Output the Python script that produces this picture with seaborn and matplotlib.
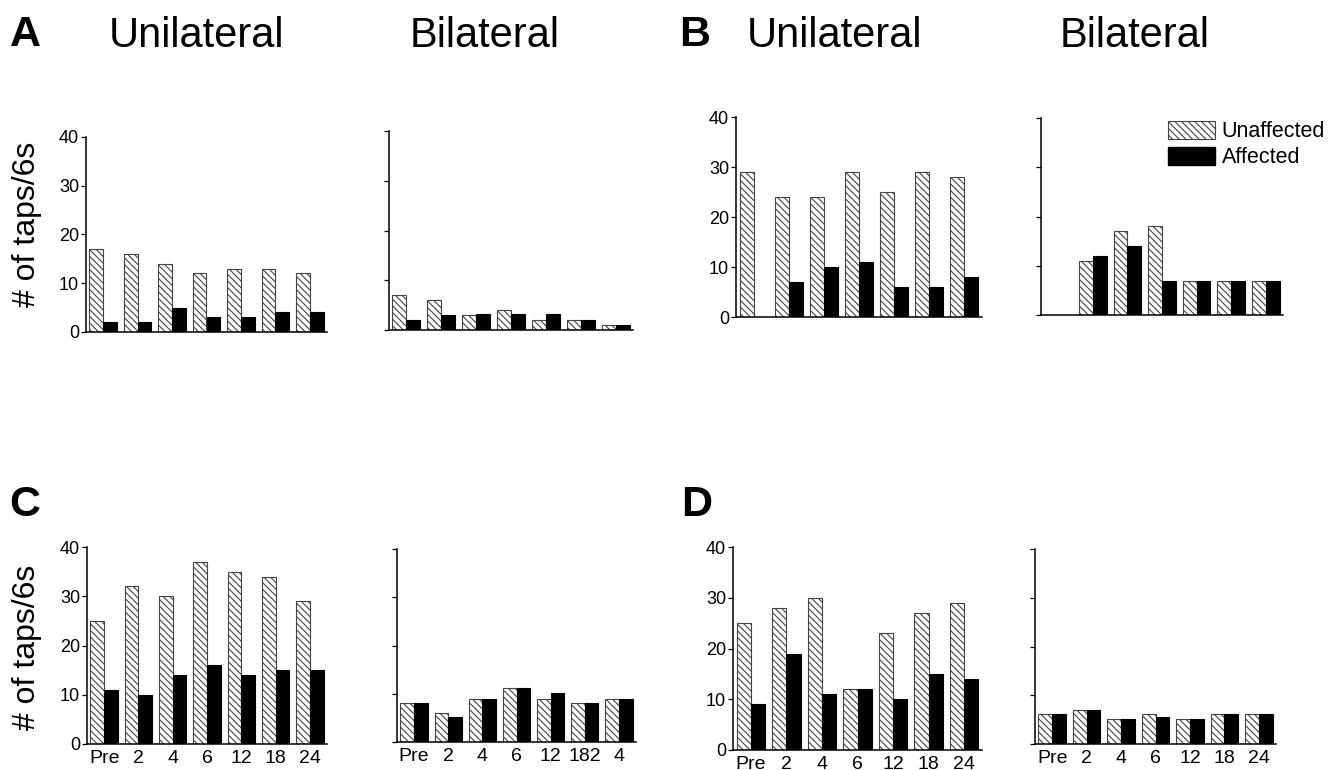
import numpy as np
import pandas as pd
import matplotlib
matplotlib.use("Agg")
import matplotlib.pyplot as plt
import matplotlib.patches as mpatches
import seaborn as sns

sns.set_theme(style="ticks")
plt.rcParams['font.family'] = ['Liberation Sans', 'DejaVu Sans']
plt.rcParams['text.color'] = 'black'
plt.rcParams['xtick.color'] = 'black'
plt.rcParams['ytick.color'] = 'black'
plt.rcParams['axes.labelcolor'] = 'black'
plt.rcParams['hatch.linewidth'] = 0.8
plt.rcParams['hatch.color'] = '#333333'

TIMES = ["Pre", "2", "4", "6", "12", "18", "24"]
HANDS = ["Unaffected", "Affected"]
LABELS_C_BI = ["Pre", "2", "4", "6", "12", "182", "4"]

# taps per 6 s (nan = no bar)
A_UNI_UNAFF = [17, 16, 14, 12, 13, 13, 12]
A_UNI_AFF = [2, 2, 5, 3, 3, 4, 4]
A_BI_UNAFF = [7.1, 6.1, 3.1, 4.1, 2.1, 2.1, 1.1]
A_BI_AFF = [2.1, 3.1, 3.2, 3.2, 3.3, 2.1, 1.1]

B_UNI_UNAFF = [29, 24, 24, 29, 25, 29, 28]
B_UNI_AFF = [np.nan, 7, 10, 11, 6, 6, 8]
B_BI_UNAFF = [np.nan, 11, 17, 18, 7, 7, 7]
B_BI_AFF = [np.nan, 12, 14, 7, 7, 7, 7]

C_UNI_UNAFF = [25, 32, 30, 37, 35, 34, 29]
C_UNI_AFF = [11, 10, 14, 16, 14, 15, 15]
C_BI_UNAFF = [8, 6, 9, 11.2, 9, 8.1, 9]
C_BI_AFF = [8, 5.1, 9, 11.2, 10.1, 8.1, 9]

D_UNI_UNAFF = [25, 28, 30, 12, 23, 27, 29]
D_UNI_AFF = [9, 19, 11, 12, 10, 15, 14]
D_BI_UNAFF = [6.1, 7, 5.05, 6.1, 5.05, 6.1, 6.1]
D_BI_AFF = [6.1, 7, 5.05, 5.5, 5.05, 6.1, 6.1]

W, H = 1341, 770
HATCH = '\\' * 5


def px_axes(fig, x0, x1, ytop, ybot):
    """Add axes given pixel box (top-left origin)"""
    return fig.add_axes([x0 / W, 1 - ybot / H, (x1 - x0) / W, (ybot - ytop) / H])


def draw_panel(ax, unaff, aff, bilateral=False, xlabels=None):
    df = pd.DataFrame({
        'time': TIMES * 2,
        'hand': [HANDS[0]] * len(TIMES) + [HANDS[1]] * len(TIMES),
        'taps': list(unaff) + list(aff),
    })
    sns.barplot(data=df, x='time', y='taps', hue='hand', order=TIMES,
                hue_order=HANDS, palette={'Unaffected': 'white', 'Affected': 'black'},
                width=0.8, errorbar=None, saturation=1, legend=False, ax=ax)
    for bar in ax.containers[0]:
        bar.set_hatch(HATCH)
        bar.set_edgecolor('#444444')
        bar.set_linewidth(0.8)
    for bar in ax.containers[1]:
        bar.set_edgecolor('black')
        bar.set_linewidth(0.8)

    ax.set_ylim(0, 40)
    ax.set_xlim(-0.5, len(TIMES) - 0.5)
    ax.set_yticks([0, 10, 20, 30, 40])
    ax.set_xlabel('')
    ax.set_ylabel('')
    sns.despine(ax=ax)
    for s in ('left', 'bottom'):
        ax.spines[s].set_linewidth(1.1)
        ax.spines[s].set_color('black')
    ax.tick_params(axis='x', length=0, labelsize=14, pad=4)
    ax.tick_params(axis='y', length=3.5, width=0.9, labelsize=13, pad=1.5)
    if bilateral:
        ax.set_yticklabels([])
    if xlabels is None:
        ax.set_xticklabels([])
    else:
        ax.set_xticks(range(len(TIMES)))
        ax.set_xticklabels(xlabels)


fig = plt.figure(figsize=(W / 100, H / 100), dpi=100)

ax_a1 = px_axes(fig, 86, 327, 137, 332)
ax_a2 = px_axes(fig, 389, 633, 131, 330)
ax_b1 = px_axes(fig, 736, 982, 117, 317)
ax_b2 = px_axes(fig, 1041, 1283, 118, 315)
ax_c1 = px_axes(fig, 87, 327, 547, 744)
ax_c2 = px_axes(fig, 397, 636, 549, 742)
ax_d1 = px_axes(fig, 733, 982, 547, 750)
ax_d2 = px_axes(fig, 1035, 1276, 549, 744)

draw_panel(ax_a1, A_UNI_UNAFF, A_UNI_AFF)
draw_panel(ax_a2, A_BI_UNAFF, A_BI_AFF, bilateral=True)
draw_panel(ax_b1, B_UNI_UNAFF, B_UNI_AFF)
draw_panel(ax_b2, B_BI_UNAFF, B_BI_AFF, bilateral=True)
draw_panel(ax_c1, C_UNI_UNAFF, C_UNI_AFF, xlabels=TIMES)
draw_panel(ax_c2, C_BI_UNAFF, C_BI_AFF, bilateral=True, xlabels=LABELS_C_BI)
draw_panel(ax_d1, D_UNI_UNAFF, D_UNI_AFF, xlabels=TIMES)
draw_panel(ax_d2, D_BI_UNAFF, D_BI_AFF, bilateral=True, xlabels=TIMES)

# panel letters and column titles
for letter, x, y in [('A', 25, 35), ('B', 695, 35), ('C', 25, 505), ('D', 697, 505)]:
    fig.text(x / W, 1 - y / H, letter, fontsize=31, fontweight='bold',
             ha='center', va='center')
for title, x in [('Unilateral', 196), ('Bilateral', 485), ('Unilateral', 835), ('Bilateral', 1135)]:
    fig.text(x / W, 1 - 36 / H, title, fontsize=30, ha='center', va='center')

for y in (224, 647):
    fig.text(27 / W, 1 - y / H, '# of taps/6s', fontsize=23, rotation=90,
             ha='center', va='center')

handles = [mpatches.Patch(facecolor='white', edgecolor='#444444', hatch=HATCH, linewidth=0.8),
           mpatches.Patch(facecolor='black', edgecolor='black')]
fig.legend(handles, HANDS, loc='upper left', bbox_to_anchor=(1168 / W, 1 - 121 / H),
           frameon=False, fontsize=15.5, handlelength=2.2, handleheight=0.9,
           handletextpad=0.3, labelspacing=0.2, borderpad=0, borderaxespad=0)

fig.savefig('out.png', dpi=100)
